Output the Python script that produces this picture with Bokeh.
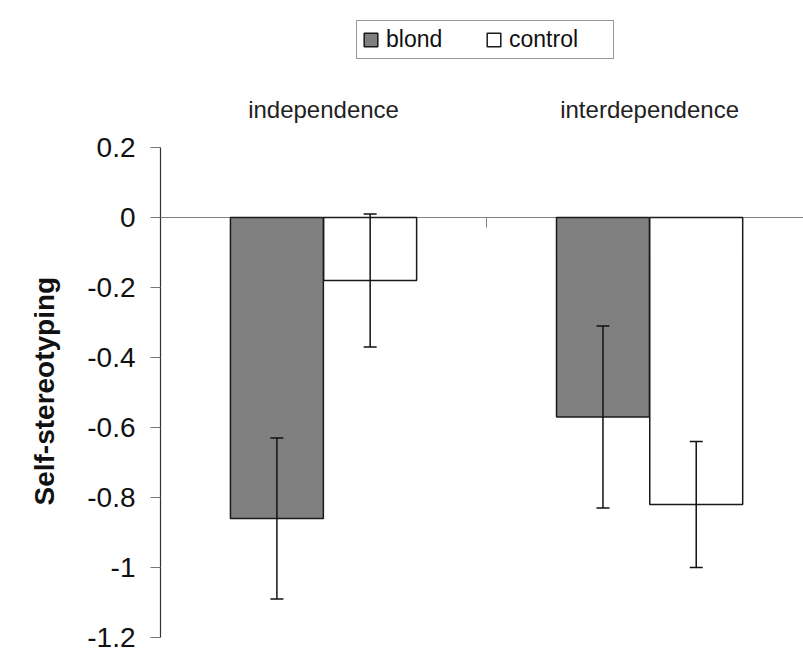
import numpy as np
from bokeh.plotting import figure
from bokeh.models import (Range1d, LinearAxis, FixedTicker, Legend, LegendItem,
                          Whisker, TeeHead, ColumnDataSource, Title)
from bokeh.embed import file_html
from bokeh.resources import INLINE

# ---- data ----
categories = ["independence", "interdependence"]
series_names = ["blond", "control"]
blond_mean = [-0.86, -0.57]
blond_upper = [-0.63, -0.31]
blond_lower = [-1.09, -0.83]
control_mean = [-0.18, -0.82]
control_upper = [0.01, -0.64]
control_lower = [-0.37, -1.00]
y_ticks = [0.2, 0, -0.2, -0.4, -0.6, -0.8, -1.0, -1.2]
y_tick_labels = ["0.2", "0", "-0.2", "-0.4", "-0.6", "-0.8", "-1", "-1.2"]
y_title = "Self-stereotyping"

FONT = "Liberation Sans"
bar_w = 0.285
off = 0.143

centers = np.arange(len(categories)) + 0.5
blond_x = centers - off
control_x = centers + off
boundaries = [float(b) for b in np.arange(1, len(categories))]

p = figure(width=803, height=650, output_backend="svg", toolbar_location=None,
           x_axis_location=None, y_axis_location="left",
           x_range=Range1d(0, 1.972), y_range=Range1d(min(y_ticks), 0.62),
           min_border_left=160, min_border_right=0, min_border_top=0,
           min_border_bottom=13)
p.outline_line_color = None
p.xgrid.visible = False
p.ygrid.visible = False
p.background_fill_color = "white"
p.border_fill_color = "white"

# zero line with category separator tick
zero_axis = LinearAxis(fixed_location=0, ticker=FixedTicker(ticks=boundaries))
zero_axis.axis_line_color = "#808080"
zero_axis.axis_line_width = 1.2
zero_axis.major_tick_line_color = "#808080"
zero_axis.major_tick_in = 0
zero_axis.major_tick_out = 10
zero_axis.minor_tick_line_color = None
zero_axis.major_label_text_color = None
zero_axis.level = "underlay"
p.add_layout(zero_axis, "below")

# category labels above the plot
cat_axis = LinearAxis(fixed_location=max(y_ticks),
                      ticker=FixedTicker(ticks=[float(c) for c in centers]))
cat_axis.major_label_overrides = {float(c): n for c, n in zip(centers, categories)}
cat_axis.axis_line_color = None
cat_axis.major_tick_line_color = None
cat_axis.minor_tick_line_color = None
cat_axis.major_label_standoff = 19
cat_axis.major_label_text_font = FONT
cat_axis.major_label_text_font_size = "24px"
cat_axis.major_label_text_color = "#222222"
p.add_layout(cat_axis, "above")

# y axis
ya = p.yaxis[0]
ya.ticker = FixedTicker(ticks=y_ticks)
ya.major_label_overrides = {float(t): l for t, l in zip(y_ticks, y_tick_labels)}
ya.bounds = (min(y_ticks), max(y_ticks))
ya.axis_line_color = "#333333"
ya.axis_line_width = 1.2
ya.major_tick_line_color = "#777777"
ya.major_tick_in = 0
ya.major_tick_out = 10
ya.minor_tick_line_color = None
ya.major_label_standoff = 15
ya.major_label_text_font = FONT
ya.major_label_text_font_size = "28px"
ya.major_label_text_color = "#111111"

# y title, placed along the value axis
p.add_layout(Title(text=y_title, align="left", offset=132, vertical_align="top",
                   standoff=45, text_font=FONT, text_font_style="bold",
                   text_font_size="28px", text_color="#111111"), "left")

# bars
src_b = ColumnDataSource(dict(x=blond_x, top=blond_mean, up=blond_upper, lo=blond_lower))
src_c = ColumnDataSource(dict(x=control_x, top=control_mean, up=control_upper, lo=control_lower))
rb = p.vbar(x="x", top="top", bottom=0, width=bar_w, source=src_b,
            fill_color="#808080", line_color="#1a1a1a", line_width=1.5)
rc = p.vbar(x="x", top="top", bottom=0, width=bar_w, source=src_c,
            fill_color="white", line_color="#1a1a1a", line_width=1.5)

for src in (src_b, src_c):
    w = Whisker(base="x", upper="up", lower="lo", source=src, dimension="height",
                line_color="#111111", line_width=1.5, level="overlay",
                upper_head=TeeHead(size=13, line_color="#111111", line_width=1.5),
                lower_head=TeeHead(size=13, line_color="#111111", line_width=1.5))
    p.add_layout(w)

legend = Legend(items=[LegendItem(label=series_names[0], renderers=[rb]),
                       LegendItem(label=series_names[1], renderers=[rc])],
                orientation="horizontal", location=(196, 578))
legend.label_text_font = FONT
legend.label_text_font_size = "23px"
legend.label_text_color = "#111111"
legend.glyph_width = 17
legend.glyph_height = 17
legend.label_standoff = 7
legend.padding = 5
legend.margin = 0
legend.label_width = 99
legend.spacing = 0
legend.border_line_color = "#333333"
legend.border_line_width = 1.2
legend.background_fill_color = "white"
legend.background_fill_alpha = 1
p.add_layout(legend, "center")

open("out.html", "w").write(file_html(p, INLINE))
